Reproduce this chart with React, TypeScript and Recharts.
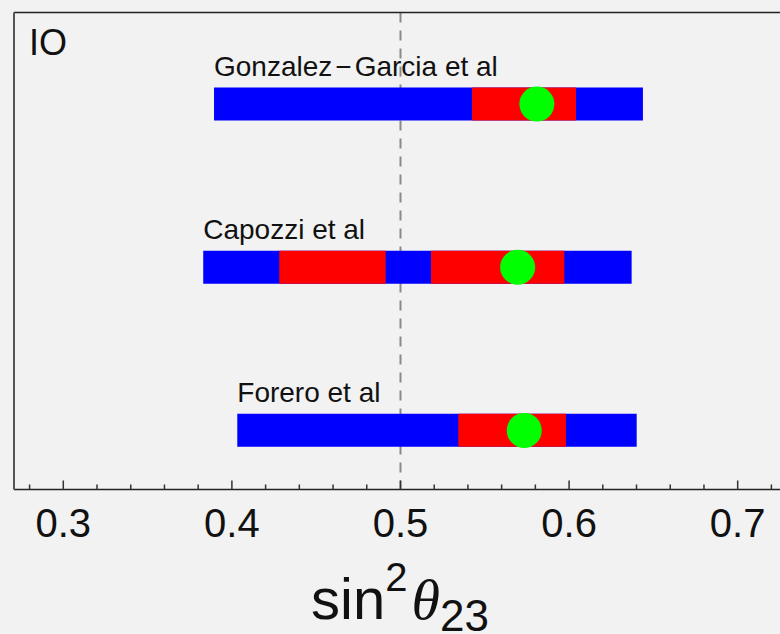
import {
  ComposedChart,
  Bar,
  Line,
  XAxis,
  YAxis,
  CartesianGrid,
  LabelList,
  Customized,
} from "recharts";

const STUDIES = ["Gonzalez\u2212Garcia et al", "Capozzi et al", "Forero et al"];
// 3 sigma range (blue), 1 sigma range(s) (red), best fit (green)
const BLUE_RANGES = [
  [0.3894, 0.6438],
  [0.383, 0.6371],
  [0.4032, 0.6401],
];
const RED_RANGES_A = [
  [0.5424, 0.6041],
  [0.4281, 0.4912],
  [0.5343, 0.5982],
];
const RED_RANGES_B = [null, [0.5181, 0.5972], null];
const BEST_FIT = [0.5809, 0.5695, 0.5734];

const X_TICKS = [
  0.28, 0.3, 0.32, 0.34, 0.36, 0.38, 0.4, 0.42, 0.44, 0.46, 0.48, 0.5, 0.52,
  0.54, 0.56, 0.58, 0.6, 0.62, 0.64, 0.66, 0.68, 0.7, 0.72, 0.74, 0.76,
];
const MAJOR_TICKS = [0.3, 0.4, 0.5, 0.6, 0.7];
const MAJOR_LABELS = ["0.3", "0.4", "0.5", "0.6", "0.7"];
const MAXIMAL_MIXING = 0.5;

const FONT = "'Liberation Sans', Arial, Helvetica, sans-serif";
const X_DOMAIN = [0.27076, 0.76069];

const data = STUDIES.map((name, i) => ({
  name,
  blue: BLUE_RANGES[i],
  redA: RED_RANGES_A[i],
  redB: RED_RANGES_B[i],
  best: BEST_FIT[i],
}));

const renderTick = (props: any) => {
  const { x, y, payload } = props;
  const idx = MAJOR_TICKS.findIndex((m) => Math.abs(m - payload.value) < 1e-9);
  const major = idx >= 0;
  return (
    <g>
      <line
        x1={x}
        x2={x}
        y1={y}
        y2={y - (major ? 9 : 5)}
        stroke="#333"
        strokeWidth={1.5}
      />
      {major && (
        <text
          x={x}
          y={y + 47.5}
          textAnchor="middle"
          fontFamily={FONT}
          fontSize={40}
          fill="#111"
        >
          {MAJOR_LABELS[idx]}
        </text>
      )}
    </g>
  );
};

// mathematica-style minus gets a bit of air on both sides
const renderStudyLabel = (props: any) => {
  const { x, y, value } = props;
  const parts = String(value).split("\u2212");
  return (
    <text x={x} y={y - 11.5} fontFamily={FONT} fontSize={28} fill="#111">
      {parts.length > 1 ? (
        <>
          <tspan>{parts[0]}</tspan>
          <tspan dx={3}>{"\u2212"}</tspan>
          <tspan dx={3}>{parts[1]}</tspan>
        </>
      ) : (
        value
      )}
    </text>
  );
};

// dashed guide at sin^2 = 0.5, drawn in the grid layer so it sits behind the bars
const guideX = (args: any) => {
  const s = args?.xAxis?.scale;
  if (typeof s === "function") return [s(MAXIMAL_MIXING)];
  if (s && typeof s.map === "function") return [s.map(MAXIMAL_MIXING)];
  const off = args.offset;
  const [d0, d1] = X_DOMAIN;
  return [off.left + ((MAXIMAL_MIXING - d0) / (d1 - d0)) * off.width];
};

const Annotations = () => (
  <g>
    <text x={29} y={55} fontFamily={FONT} fontSize={36} fill="#111">
      IO
    </text>
    <text x={311} y={619} fontFamily={FONT} fontSize={58} fill="#111">
      <tspan>sin</tspan>
      <tspan fontSize={40} dy={-28}>
        2
      </tspan>
      <tspan
        dy={28}
        dx={4}
        fontFamily="'Liberation Serif', 'Times New Roman', serif"
        fontStyle="italic"
      >
        θ
      </tspan>
      <tspan fontSize={44} dy={12}>
        23
      </tspan>
    </text>
  </g>
);

export default function App() {
  return (
    <div
      style={{
        position: "fixed",
        left: 0,
        top: 0,
        width: 780,
        height: 634,
        overflow: "hidden",
        background: "#f2f2f2",
      }}
    >
      <ComposedChart
        width={840}
        height={634}
        data={data}
        layout="vertical"
        margin={{ top: 11.5, right: 0, bottom: 44.5, left: 13 }}
      >
        <CartesianGrid
          yAxisId="a"
          horizontal={false}
          vertical
          stroke="#8a8a8a"
          strokeWidth={2}
          strokeDasharray="10 8"
          verticalCoordinatesGenerator={guideX}
        />
        <XAxis
          type="number"
          domain={X_DOMAIN}
          allowDataOverflow
          ticks={X_TICKS}
          interval={0}
          tickSize={0}
          tickMargin={0}
          tickLine={false}
          tick={renderTick}
          axisLine={{ stroke: "#222", strokeWidth: 1.5 }}
          height={100}
        />
        <XAxis
          xAxisId="top"
          orientation="top"
          type="number"
          domain={X_DOMAIN}
          allowDataOverflow
          height={1}
          ticks={[]}
          tick={false}
          tickLine={false}
          axisLine={{ stroke: "#222", strokeWidth: 1.5 }}
        />
        <YAxis
          yAxisId="a"
          type="category"
          dataKey="name"
          width={1}
          tick={false}
          tickLine={false}
          axisLine={{ stroke: "#555", strokeWidth: 2 }}
          padding={{ top: 9.9, bottom: -22.6 }}
        />
        <YAxis
          yAxisId="b"
          type="category"
          dataKey="name"
          hide
          padding={{ top: 9.9, bottom: -22.6 }}
        />
        <YAxis
          yAxisId="c"
          type="category"
          dataKey="name"
          hide
          padding={{ top: 9.9, bottom: -22.6 }}
        />
        <Bar
          yAxisId="a"
          dataKey="blue"
          fill="#0000ff"
          barSize={33}
          isAnimationActive={false}
        >
          <LabelList dataKey="name" content={renderStudyLabel} />
        </Bar>
        <Bar
          yAxisId="b"
          dataKey="redA"
          fill="#ff0000"
          barSize={33}
          isAnimationActive={false}
        />
        <Bar
          yAxisId="c"
          dataKey="redB"
          fill="#ff0000"
          barSize={33}
          isAnimationActive={false}
        />
        <Line
          yAxisId="a"
          dataKey="best"
          stroke="none"
          dot={{ r: 17.5, fill: "#00ff00", stroke: "none", strokeWidth: 0 }}
          activeDot={false}
          isAnimationActive={false}
        />
        <Customized component={Annotations} />
      </ComposedChart>
    </div>
  );
}
